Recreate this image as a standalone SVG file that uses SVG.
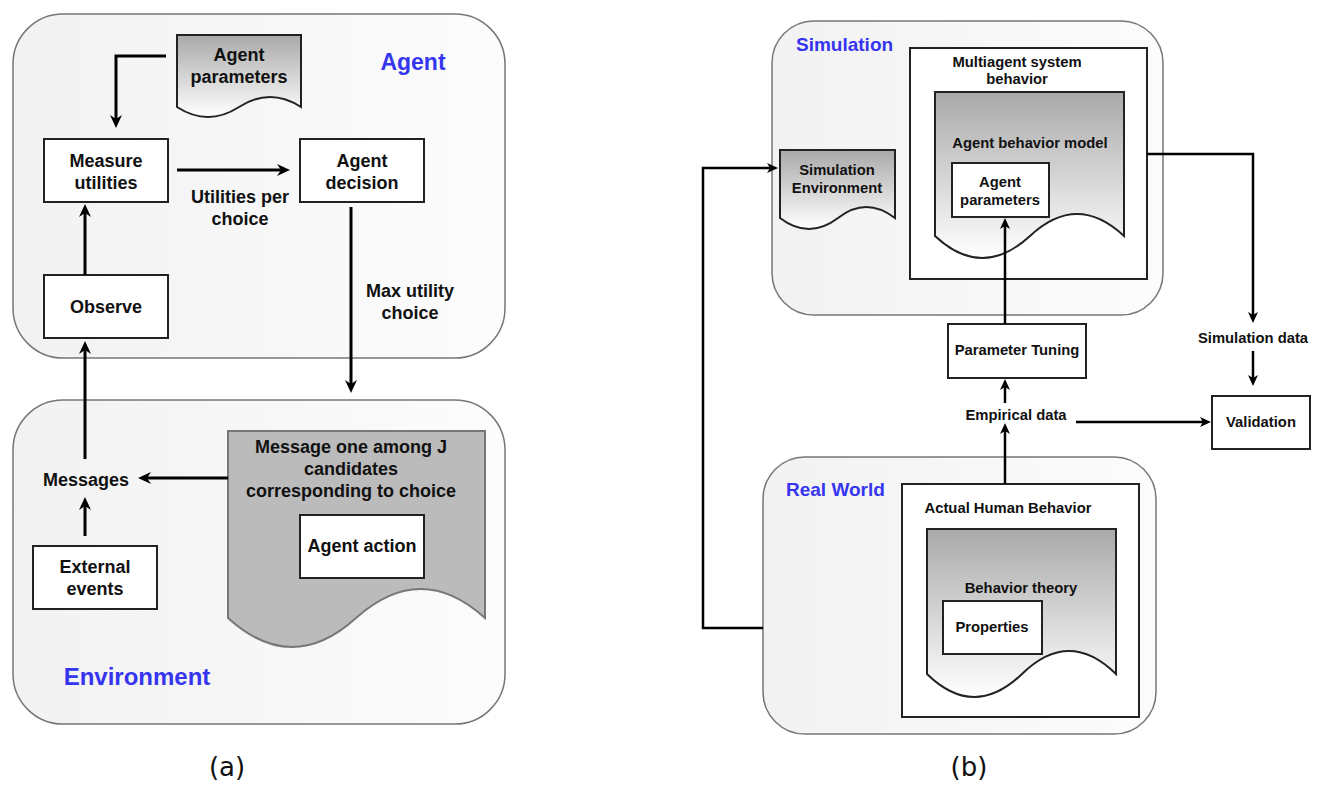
<svg xmlns="http://www.w3.org/2000/svg" width="1320" height="787" viewBox="0 0 1320 787">
<defs>
<linearGradient id="cont" x1="0" y1="0" x2="1" y2="0">
<stop offset="0" stop-color="#f2f2f2"/><stop offset="1" stop-color="#fcfcfc"/>
</linearGradient>
<linearGradient id="docg" x1="0" y1="0" x2="0" y2="1">
<stop offset="0" stop-color="#a9a9a9"/><stop offset="1" stop-color="#ffffff"/>
</linearGradient>
<marker id="ah" markerUnits="userSpaceOnUse" markerWidth="13" markerHeight="12" refX="4" refY="6" orient="auto">
<path d="M0,0 L13,6 L0,12 L4,6 Z" fill="#000"/>
</marker>
<marker id="bh" markerUnits="userSpaceOnUse" markerWidth="11" markerHeight="10" refX="3" refY="5" orient="auto">
<path d="M0,0 L11,5 L0,10 L3,5 Z" fill="#000"/>
</marker>
<style>
.cont{fill:url(#cont);stroke:#777;stroke-width:1.5}
.box{fill:#fff;stroke:#222;stroke-width:2}
.doc{fill:url(#docg);stroke:#222;stroke-width:2}
.ta{font-family:"Liberation Sans",Arial,sans-serif;font-weight:bold;font-size:18px;fill:#111;text-anchor:middle}
.tb{font-family:"Liberation Sans",Arial,sans-serif;font-weight:bold;font-size:14.8px;fill:#111;text-anchor:middle}
.blue{font-family:"Liberation Sans",Arial,sans-serif;font-weight:bold;fill:#3535f0}
.cap{font-family:"DejaVu Sans",sans-serif;font-size:26px;fill:#111;text-anchor:middle}
.ca{fill:none;stroke:#000;stroke-width:3;marker-end:url(#ah)}
.cb{fill:none;stroke:#000;stroke-width:2.5;marker-end:url(#bh)}
</style>
</defs>

<!-- Panel (a) -->
<g id="agent-container">
<rect x="13" y="14" width="492" height="344" rx="50" class="cont"/>
<text x="413" y="70" class="blue" font-size="23" text-anchor="middle">Agent</text>
</g>
<g id="environment-container">
<rect x="13" y="400" width="492" height="324" rx="50" class="cont"/>
<text x="137" y="685" class="blue" font-size="24" text-anchor="middle">Environment</text>
</g>
<g id="agent-parameters-a">
<path d="M177,35 H301 V107 Q270,87 239,107 Q208,127 177,107 Z" class="doc"/>
<text x="239" y="61" class="ta">Agent</text>
<text x="239" y="83" class="ta">parameters</text>
</g>
<g id="measure-utilities">
<rect x="44" y="139" width="124" height="63" class="box"/>
<text x="106" y="167" class="ta">Measure</text>
<text x="106" y="189" class="ta">utilities</text>
</g>
<g id="agent-decision">
<rect x="300" y="139" width="124" height="63" class="box"/>
<text x="362" y="167" class="ta">Agent</text>
<text x="362" y="189" class="ta">decision</text>
</g>
<g id="observe">
<rect x="44" y="275" width="124" height="63" class="box"/>
<text x="106" y="313" class="ta">Observe</text>
</g>
<g id="messages">
<text x="86" y="486" class="ta">Messages</text>
</g>
<g id="external-events">
<rect x="33" y="546" width="124" height="63" class="box"/>
<text x="95" y="573" class="ta">External</text>
<text x="95" y="595" class="ta">events</text>
</g>
<g id="message-doc">
<path d="M228,431 H485 V618 Q421,560 356,618 Q292,676 228,618 Z" fill="#bbbbbb" stroke="#777" stroke-width="2"/>
<text x="351" y="453" class="ta">Message one among J</text>
<text x="351" y="475" class="ta">candidates</text>
<text x="351" y="497" class="ta">corresponding to choice</text>
</g>
<g id="agent-action">
<rect x="300" y="515" width="124" height="63" class="box"/>
<text x="362" y="552" class="ta">Agent action</text>
</g>
<g id="labels-a">
<text x="240" y="203" class="ta">Utilities per</text>
<text x="240" y="225" class="ta">choice</text>
<text x="410" y="297" class="ta">Max utility</text>
<text x="410" y="319" class="ta">choice</text>
<text x="227" y="776" class="cap">(a)</text>
</g>

<!-- Panel (b) -->
<g id="simulation-container">
<rect x="772" y="21" width="391" height="294" rx="42" class="cont"/>
<text x="796" y="51" class="blue" font-size="19">Simulation</text>
</g>
<g id="real-world-container">
<rect x="763" y="457" width="393" height="277" rx="42" class="cont"/>
<text x="786" y="496" class="blue" font-size="19">Real World</text>
</g>
<g id="multiagent-behavior">
<rect x="910" y="48" width="237" height="231" class="box"/>
<text x="1017" y="67" class="tb">Multiagent system</text>
<text x="1017" y="84" class="tb">behavior</text>
</g>
<g id="agent-behavior-model">
<path d="M935,92 H1124 V236 Q1077,192 1030,236 Q982,280 935,236 Z" class="doc"/>
<text x="1030" y="148" class="tb">Agent behavior model</text>
</g>
<g id="agent-parameters-b">
<rect x="952" y="163" width="97" height="54" class="box"/>
<text x="1000" y="187" class="tb">Agent</text>
<text x="1000" y="205" class="tb">parameters</text>
</g>
<g id="simulation-environment">
<path d="M780,150 H895 V218 Q866,196 838,218 Q809,240 780,218 Z" class="doc"/>
<text x="837" y="175" class="tb">Simulation</text>
<text x="837" y="193" class="tb">Environment</text>
</g>
<g id="parameter-tuning">
<rect x="948" y="324" width="138" height="54" class="box"/>
<text x="1017" y="355" class="tb">Parameter Tuning</text>
</g>
<g id="validation">
<rect x="1212" y="396" width="98" height="53" class="box"/>
<text x="1261" y="427" class="tb">Validation</text>
</g>
<g id="actual-human-behavior">
<rect x="902" y="484" width="237" height="233" class="box"/>
<text x="1008" y="513" class="tb">Actual Human Behavior</text>
</g>
<g id="behavior-theory">
<path d="M927,529 H1116 V674 Q1069,628 1022,674 Q974,720 927,674 Z" class="doc"/>
<text x="1021" y="593" class="tb">Behavior theory</text>
</g>
<g id="properties">
<rect x="943" y="601" width="99" height="53" class="box"/>
<text x="992" y="632" class="tb">Properties</text>
</g>
<g id="labels-b">
<text x="1253" y="343" class="tb">Simulation data</text>
<text x="1016" y="420" class="tb">Empirical data</text>
<text x="969" y="776" class="cap">(b)</text>
</g>

<g id="connectors">
<path d="M166,56 H116 V119" class="ca"/>
<path d="M177,170 H281" class="ca"/>
<path d="M85,275 V213" class="ca"/>
<path d="M351,207 V384" class="ca"/>
<path d="M85,459 V350" class="ca"/>
<path d="M85,536 V506" class="ca"/>
<path d="M228,478 H147" class="ca"/>
<path d="M763,628 H703 V168 H770" class="cb"/>
<path d="M1147,154 H1253 V315" class="cb"/>
<path d="M1253,351 V378" class="cb"/>
<path d="M1005,324 V226" class="cb"/>
<path d="M1005,403 V387" class="cb"/>
<path d="M1005,484 V431" class="cb"/>
<path d="M1076,422 H1203" class="cb"/>
</g>
</svg>
